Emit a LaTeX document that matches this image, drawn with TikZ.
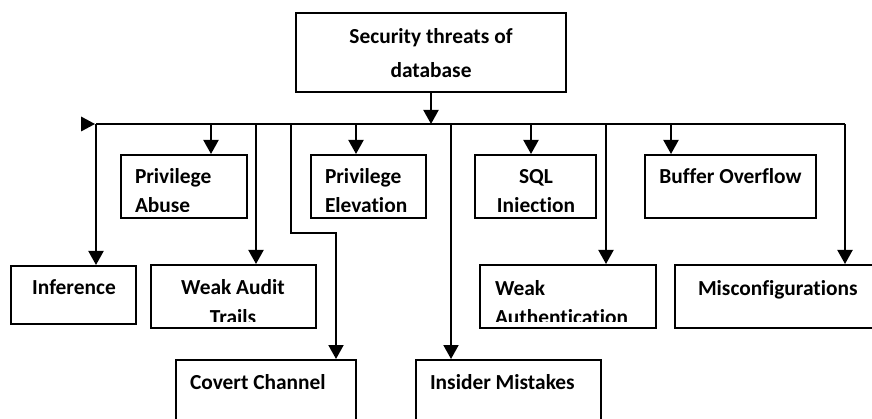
\documentclass[tikz,border=0pt]{standalone}
\usepackage{fontspec}
\setmainfont{Carlito}[Ligatures=NoCommon]
\usetikzlibrary{arrows.meta,fit}
\begin{document}
\begin{tikzpicture}[x=1pt,y=-1pt,line width=2pt,
  box/.style={draw,rectangle,inner sep=0pt,line width=2pt},
  arr/.style={-{Triangle[width=15pt,length=14pt]}},
  txt/.style={inner sep=0pt,font=\fontsize{21.4}{29}\selectfont\bfseries}]
\useasboundingbox (0,0) rectangle (872,419);
\clip (0,0) rectangle (872,419);
% boxes
\node[box,fit={(296,13) (566,92)}] (top) {};
\node[box,fit={(11,266) (136,324)}] (inf) {};
\node[box,fit={(121,155) (247,218)}] (abuse) {};
\node[box,fit={(151,265) (316,328)}] (audit) {};
\node[box,fit={(176,360) (356,440)}] (covert) {};
\node[box,fit={(311,155) (426,218)}] (elev) {};
\node[box,fit={(416,360) (601,440)}] (insider) {};
\node[box,fit={(475,155) (596,218)}] (sql) {};
\node[box,fit={(480,265) (656,328)}] (auth) {};
\node[box,fit={(645,155) (816,218)}] (buffer) {};
\node[box,fit={(675,265) (900,328)}] (misc) {};
% texts
\node[txt,anchor=base] (topT1) at (431,44) {Security threats of};
\node[txt,anchor=base] (topT2) at (431,78) {database};
\node[txt,anchor=base] (infT) at (74,295) {Inference};
\node[txt,anchor=base west] (abuseT1) at (134,184) {Privilege};
\node[txt,anchor=base] (auditT1) at (233,295) {Weak Audit};
\node[txt,anchor=base west] (covertT) at (189,389) {Covert Channel};
\node[txt,anchor=base west] (elevT1) at (324,184) {Privilege};
\node[txt,anchor=base west] (insiderT) at (429,389) {Insider Mistakes};
\node[txt,anchor=base] (sqlT1) at (536,184) {SQL};
\node[txt,anchor=base west] (authT1) at (494,296) {Weak};
\node[txt,anchor=base] (bufferT) at (730.5,184) {Buffer Overflow};
\node[txt,anchor=base west] (miscT) at (697,296) {Misconfigurations};
\begin{scope}
\clip (abuse.north west) rectangle ([yshift=7.5pt]abuse.south east);
\node[txt,anchor=base west] (abuseT2) at (134,213) {Abuse};
\end{scope}
\begin{scope}
\clip (elev.north west) rectangle ([yshift=7.5pt]elev.south east);
\node[txt,anchor=base west] (elevT2) at (324,213) {Elevation};
\end{scope}
\begin{scope}
\clip (sql.north west) rectangle ([yshift=7.5pt]sql.south east);
\node[txt,anchor=base] (sqlT2) at (536,213) {Injection};
\end{scope}
\begin{scope}
\clip (audit.north west) rectangle ([yshift=7.5pt]audit.south east);
\node[txt,anchor=base] (auditT2) at (233,324) {Trails};
\end{scope}
\begin{scope}
\clip (auth.north west) rectangle ([yshift=7.5pt]auth.south east);
\node[txt,anchor=base west] (authT2) at (494,324) {Authentication};
\end{scope}
% bus
\coordinate (b0) at (96,124);
\coordinate (bTop) at (431,124);
\coordinate (bAbuse) at (211,124);
\coordinate (bAudit) at (256,124);
\coordinate (bCov) at (291,124);
\coordinate (cvK) at (336,233);
\coordinate (bElev) at (356,124);
\coordinate (bIns) at (451,124);
\coordinate (bSql) at (531,124);
\coordinate (bAuth) at (606,124);
\coordinate (bBuf) at (671,124);
\coordinate (b9) at (845,124);
\draw[arr] (top.south) -- (bTop);
\draw (b0) -- (b9);
\fill (b0) ++(-1,0) -- ++(-14,-7.5) -- ++(0,15) -- cycle;
\draw[arr] (b0) -- (b0 |- inf.north);
\draw[arr] (bAbuse) -- (bAbuse |- abuse.north);
\draw[arr] (bAudit) -- (bAudit |- audit.north);
\draw[arr] (bCov) |- (cvK) -- (cvK |- covert.north);
\draw[arr] (bElev) -- (bElev |- elev.north);
\draw[arr] (bIns) -- (bIns |- insider.north);
\draw[arr] (bSql) -- (bSql |- sql.north);
\draw[arr] (bAuth) -- (bAuth |- auth.north);
\draw[arr] (bBuf) -- (bBuf |- buffer.north);
\draw[arr] (b9) -- (b9 |- misc.north);
\end{tikzpicture}
\end{document}
